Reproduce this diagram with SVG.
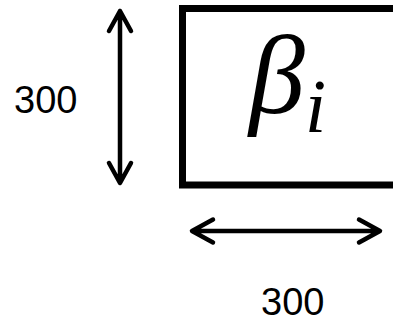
<svg xmlns="http://www.w3.org/2000/svg" width="393" height="324" viewBox="0 0 393 324">
<style>
.lbl{font-family:"Liberation Sans",Arial,sans-serif;font-size:38px;fill:#000}
.math{font-family:"Liberation Serif","DejaVu Serif",serif;font-style:italic;fill:#000}
.arr{fill:none;stroke:#000;stroke-width:4.5;stroke-linecap:round;stroke-linejoin:round}
</style>
<rect width="393" height="324" fill="#fff"/>
<g id="box">
<rect x="182.5" y="8.5" width="240" height="176.5" fill="none" stroke="#000" stroke-width="7"/>
<text class="math" x="249" y="113" font-size="112">β<tspan x="305" y="132" font-size="76">i</tspan></text>
</g>
<g id="connectors">
<path class="arr" d="M120 11V182M109 31L120 11L131 31M109 163L120 183L131 163"/>
<path class="arr" d="M193 231H379M213 219.5L192 231L213 242.5M359 219.5L380 231L359 242.5"/>
</g>
<text class="lbl" x="14" y="113">300</text>
<text class="lbl" x="261" y="315">300</text>
</svg>
